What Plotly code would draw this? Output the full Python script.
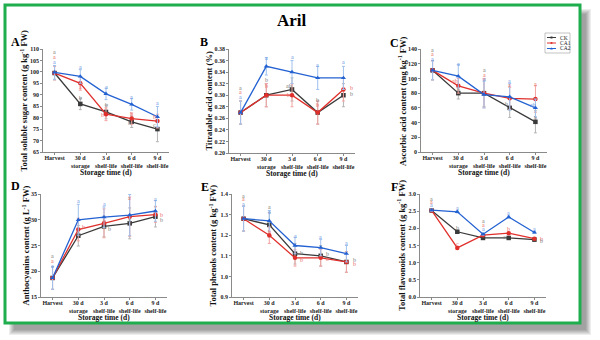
import plotly.graph_objects as go

W, H = 600, 340
SERIF = "Liberation Serif"

# ---- data -------------------------------------------------------------
stages = ["Harvest", "30 d<br>storage", "3 d<br>shelf-life", "6 d<br>shelf-life", "9 d<br>shelf-life"]
series_names = ["CK", "CA1", "CA2"]

# A  total soluble sugar (g kg-1 FW)
sugar_ck = [99.5, 86.0, 82.5, 78.2, 75.0]
sugar_ca1 = [99.5, 95.0, 81.5, 79.6, 78.5]
sugar_ca2 = [99.8, 98.0, 90.4, 85.8, 80.4]
sugar_ck_sd = [3.0, 2.5, 3.0, 2.5, 5.5]
sugar_ca1_sd = [3.0, 3.0, 2.8, 2.5, 3.0]
sugar_ca2_sd = [3.0, 3.0, 2.5, 2.5, 4.5]

# B  titratable acid (%)
acid_ck = [0.27, 0.30, 0.31, 0.27, 0.30]
acid_ca1 = [0.27, 0.30, 0.30, 0.27, 0.31]
acid_ca2 = [0.27, 0.35, 0.34, 0.33, 0.33]
acid_ck_sd = [0.02, 0.02, 0.02, 0.02, 0.02]
acid_ca1_sd = [0.02, 0.02, 0.02, 0.02, 0.02]
acid_ca2_sd = [0.02, 0.015, 0.02, 0.02, 0.02]

# C  ascorbic acid (mg kg-1 FW)
vc_ck = [111, 80, 80, 60, 41]
vc_ca1 = [111, 90, 80, 73, 72]
vc_ca2 = [111, 103, 78, 75, 60]
vc_ck_sd = [13, 8, 18, 13, 15]
vc_ca1_sd = [13, 10, 20, 15, 18]
vc_ca2_sd = [13, 16, 18, 18, 12]

# D  anthocyanins (g L-1 FW)
anth_ck = [18.7, 26.9, 28.7, 29.3, 30.6]
anth_ca1 = [18.7, 28.1, 29.3, 30.6, 31.0]
anth_ca2 = [18.7, 30.0, 30.5, 30.9, 31.7]
anth_ck_sd = [2.2, 2.0, 2.0, 3.0, 2.0]
anth_ca1_sd = [2.2, 2.2, 2.8, 3.8, 1.5]
anth_ca2_sd = [2.2, 3.0, 2.0, 4.0, 2.0]

# E  total phenols (g kg-1 FW)
phen_ck = [1.28, 1.25, 1.11, 1.10, 1.07]
phen_ca1 = [1.28, 1.20, 1.09, 1.09, 1.07]
phen_ca2 = [1.28, 1.27, 1.15, 1.14, 1.11]
phen_ck_sd = [0.06, 0.06, 0.05, 0.05, 0.05]
phen_ca1_sd = [0.06, 0.04, 0.04, 0.04, 0.05]
phen_ca2_sd = [0.06, 0.05, 0.04, 0.04, 0.04]

# F  total flavonoids (g kg-1 FW)
flav_ck = [2.52, 1.90, 1.72, 1.72, 1.67]
flav_ca1 = [2.52, 1.43, 1.80, 1.86, 1.70]
flav_ca2 = [2.53, 2.48, 1.83, 2.33, 1.88]
flav_ck_sd = [0.03, 0.03, 0.03, 0.03, 0.03]
flav_ca1_sd = [0.03, 0.03, 0.03, 0.03, 0.03]
flav_ca2_sd = [0.03, 0.03, 0.03, 0.03, 0.03]

# significance letters: (series, stage, letter, y, x-nudge)
sig_a = [(0, 0, "a", 108.5, 0), (1, 0, "a", 106.3, 0), (2, 0, "a", 104.2, 0),
         (2, 1, "a", 102.0, 0), (1, 1, "a", 93.6, 0), (0, 1, "b", 88.5, 0),
         (2, 2, "a", 93.5, 0), (0, 2, "b", 85.5, 0), (1, 2, "b", 81.3, -0.15),
         (2, 3, "a", 89.0, 0), (1, 3, "b", 81.5, 0), (0, 3, "b", 77.8, -0.1),
         (2, 4, "a", 86.5, 0), (1, 4, "b", 80.3, -0.1), (0, 4, "c", 76.8, -0.1)]
sig_b = [(0, 0, "a", 0.313, 0), (1, 0, "a", 0.305, 0), (2, 0, "a", 0.297, 0),
         (2, 1, "a", 0.365, 0), (0, 1, "b", 0.326, 0), (1, 1, "b", 0.316, 0),
         (2, 2, "a", 0.366, 0), (0, 2, "ab", 0.316, -0.1), (1, 2, "b", 0.301, -0.12),
         (2, 3, "a", 0.353, 0), (0, 3, "b", 0.291, 0), (1, 3, "b", 0.283, 0),
         (2, 4, "a", 0.357, 0), (1, 4, "b", 0.312, 0.32), (0, 4, "b", 0.302, 0.32)]
sig_c = [(0, 0, "a", 138, 0), (1, 0, "a", 133, 0), (2, 0, "a", 127, 0),
         (2, 1, "a", 119, 0), (1, 1, "ab", 96, -0.12), (0, 1, "b", 84, 0),
         (0, 2, "a", 111, 0), (1, 2, "a", 105, 0), (2, 2, "a", 99, 0),
         (2, 3, "a", 97, 0), (1, 3, "a", 91, 0), (0, 3, "b", 65, -0.12),
         (1, 4, "a", 92, 0), (2, 4, "ab", 64, -0.1), (0, 4, "b", 46, 0)]
sig_d = [(0, 0, "a", 23.0, 0), (1, 0, "a", 22.0, 0), (2, 0, "a", 21.0, 0),
         (2, 1, "a", 33.6, 0), (1, 1, "b", 28.6, 0.22), (0, 1, "c", 27.5, 0),
         (2, 2, "a", 33.0, 0), (1, 2, "b", 29.8, 0), (0, 2, "b", 28.3, 0.22),
         (2, 3, "a", 35.5, 0), (1, 3, "a", 34.2, 0), (0, 3, "a", 30.0, 0),
         (2, 4, "a", 34.0, 0), (1, 4, "b", 31.0, 0.25), (0, 4, "b", 30.0, 0.25)]
sig_e = [(0, 0, "a", 1.39, 0), (1, 0, "a", 1.375, 0), (2, 0, "a", 1.35, 0),
         (0, 1, "a", 1.335, 0), (2, 1, "a", 1.315, 0), (1, 1, "b", 1.215, 0),
         (2, 2, "a", 1.195, 0), (0, 2, "b", 1.115, 0.25), (1, 2, "b", 1.08, 0.25),
         (2, 3, "a", 1.19, 0), (0, 3, "b", 1.11, 0.25), (1, 3, "b", 1.085, 0.25),
         (2, 4, "a", 1.16, 0), (0, 4, "b", 1.08, 0.3), (1, 4, "b", 1.06, 0.3)]
sig_f = [(0, 0, "a", 2.85, 0), (1, 0, "a", 2.76, 0), (2, 0, "a", 2.67, 0),
         (2, 1, "a", 2.60, 0), (0, 1, "b", 2.02, 0), (1, 1, "c", 1.55, 0),
         (0, 2, "a", 2.20, 0), (1, 2, "a", 2.09, 0), (2, 2, "a", 1.98, 0),
         (2, 3, "a", 2.46, 0), (1, 3, "b", 1.98, 0), (0, 3, "c", 1.76, -0.15),
         (2, 4, "a", 1.98, 0), (1, 4, "b", 1.70, 0.28), (0, 4, "b", 1.62, 0.28)]

# ---- styles -----------------------------------------------------------
line_col = ["#3a3a3a", "#e0302c", "#2462d2"]
err_col = ["#b4b4b4", "#f3a3a0", "#9fc1ee"]
sig_col = ["#7a7a7a", "#e86a66", "#6a95e2"]
symbols = ["square", "circle", "triangle-up"]

panels = [
    dict(tag="A", vals=[sugar_ck, sugar_ca1, sugar_ca2], sd=[sugar_ck_sd, sugar_ca1_sd, sugar_ca2_sd],
         rng=[65, 110], dtick=5, fmt="d", sig=sig_a,
         ytitle="Total soluble sugar content (g kg<sup>-1</sup> FW)",
         xl=43, top=49, bot=152, ty=24, lx=15, ly=42),
    dict(tag="B", vals=[acid_ck, acid_ca1, acid_ca2], sd=[acid_ck_sd, acid_ca1_sd, acid_ca2_sd],
         rng=[0.20, 0.38], dtick=0.02, fmt=".2f", sig=sig_b,
         ytitle="Titratable acid content (%)",
         xl=229, top=49, bot=153, ty=208.5, lx=204, ly=42),
    dict(tag="C", vals=[vc_ck, vc_ca1, vc_ca2], sd=[vc_ck_sd, vc_ca1_sd, vc_ca2_sd],
         rng=[0, 140], dtick=20, fmt="d", sig=sig_c,
         ytitle="Ascorbic acid content (mg kg<sup>-1</sup> FW)",
         xl=421, top=49, bot=152, ty=402.5, lx=394, ly=43),
    dict(tag="D", vals=[anth_ck, anth_ca1, anth_ca2], sd=[anth_ck_sd, anth_ca1_sd, anth_ca2_sd],
         rng=[15, 35], dtick=5, fmt="d", sig=sig_d,
         ytitle="Anthocyanins content (g L<sup>-1</sup> FW)",
         xl=41, top=194, bot=297, ty=26, lx=15, ly=186),
    dict(tag="E", vals=[phen_ck, phen_ca1, phen_ca2], sd=[phen_ck_sd, phen_ca1_sd, phen_ca2_sd],
         rng=[0.9, 1.4], dtick=0.1, fmt=".1f", sig=sig_e,
         ytitle="Total phenols content (g kg<sup>-1</sup> FW)",
         xl=232, top=194, bot=297, ty=213, lx=205, ly=187),
    dict(tag="F", vals=[flav_ck, flav_ca1, flav_ca2], sd=[flav_ck_sd, flav_ca1_sd, flav_ca2_sd],
         rng=[0, 3.0], dtick=0.5, fmt=".1f", sig=sig_f,
         ytitle="Total flavonoids content (g kg<sup>-1</sup> FW)",
         xl=420, top=194, bot=297, ty=401.5, lx=394, ly=187),
]

PANEL_W = 126
X_RANGE = [-0.45, 4.45]
xs = list(range(len(stages)))


def px(x):
    return x / W


def py(y):
    return 1 - y / H


def label(x, y, text, size, color="#111", angle=0):
    return dict(x=px(x), y=py(y), xref="paper", yref="paper", text=text, textangle=angle,
                showarrow=False, xanchor="center", yanchor="middle",
                font=dict(family=SERIF, size=size, color=color))


fig = go.Figure()
layout = {}
annotations = []

for i, p in enumerate(panels):
    n = "" if i == 0 else str(i + 1)
    xa, ya = "x" + n, "y" + n
    for s in range(3):
        fig.add_trace(go.Scatter(
            x=xs, y=p["vals"][s], xaxis=xa, yaxis=ya,
            name=series_names[s], showlegend=False,
            mode="lines+markers",
            line=dict(color=line_col[s], width=1.3),
            marker=dict(symbol=symbols[s], size=4.5, color=line_col[s]),
            error_y=dict(type="data", array=p["sd"][s], color=err_col[s], thickness=1, width=1.5),
        ))
    axis_common = dict(showline=True, linecolor="#8a8a8a", linewidth=0.8, ticks="outside",
                       ticklen=2, tickwidth=0.8, tickcolor="#8a8a8a", showgrid=False, zeroline=False,
                       automargin=False,
                       tickfont=dict(family=SERIF, size=6, color="#222", weight="bold"))
    layout["xaxis" + n] = dict(axis_common, domain=[px(p["xl"]), px(p["xl"] + PANEL_W)],
                               anchor=ya, range=X_RANGE, tickmode="array", tickvals=xs,
                               ticktext=stages, ticklabelstandoff=-2)
    layout["yaxis" + n] = dict(axis_common, domain=[py(p["bot"]), py(p["top"])],
                               anchor=xa, range=p["rng"], dtick=p["dtick"], tick0=p["rng"][0],
                               tickformat=p["fmt"])
    annotations.append(label(p["ty"], (p["top"] + p["bot"]) / 2, "<b>" + p["ytitle"] + "</b>", 8.5,
                             angle=-90))
    annotations.append(label(p["xl"] + PANEL_W / 2, p["bot"] + 20, "<b>Storage time (d)</b>", 7.5))
    annotations.append(label(p["lx"], p["ly"], "<b>" + p["tag"] + "</b>", 12, color="#000"))
    for s, k, txt, yv, dx in p["sig"]:
        annotations.append(dict(x=k + dx, y=yv, xref=xa, yref=ya, text=txt, showarrow=False,
                                xanchor="center", yanchor="middle",
                                font=dict(family=SERIF, size=6, color=sig_col[s])))

annotations.append(label(292, 20, "<b>Aril</b>", 17, color="#000"))

# frame with a soft drop shadow toward lower right
shapes = []
for j in range(6):
    shapes.append(dict(type="rect", xref="paper", yref="paper", layer="below",
                       x0=px(14 - j), x1=px(586 + j), y0=py(330 + j), y1=py(14 - j),
                       line=dict(width=0), fillcolor="rgba(0,0,0,0.07)"))
shapes.append(dict(type="rect", xref="paper", yref="paper", layer="below",
                   x0=px(5), x1=px(580), y0=py(323), y1=py(5),
                   line=dict(color="#1fae4e", width=3), fillcolor="white"))

# compact key inside panel C
key_x0, key_x1, key_top = 545, 570, 33
shapes.append(dict(type="rect", xref="paper", yref="paper",
                   x0=px(key_x0), x1=px(key_x1), y0=py(key_top + 20), y1=py(key_top),
                   line=dict(color="#9a9a9a", width=0.6), fillcolor="white"))
for s in range(3):
    yk = key_top + 4.5 + s * 5.5
    shapes.append(dict(type="line", xref="paper", yref="paper",
                       x0=px(key_x0 + 2), x1=px(key_x0 + 11), y0=py(yk), y1=py(yk),
                       line=dict(color=line_col[s], width=1)))
    if s == 0:
        shapes.append(dict(type="rect", xref="paper", yref="paper",
                           x0=px(key_x0 + 5.5), x1=px(key_x0 + 7.5), y0=py(yk + 1), y1=py(yk - 1),
                           line=dict(width=0), fillcolor=line_col[s]))
    elif s == 1:
        shapes.append(dict(type="circle", xref="paper", yref="paper",
                           x0=px(key_x0 + 5.4), x1=px(key_x0 + 7.6), y0=py(yk + 1.1), y1=py(yk - 1.1),
                           line=dict(width=0), fillcolor=line_col[s]))
    else:
        cx = key_x0 + 6.5
        shapes.append(dict(type="path", xref="paper", yref="paper",
                           path=f"M {px(cx - 1.3)} {py(yk + 1)} L {px(cx + 1.3)} {py(yk + 1)} "
                                f"L {px(cx)} {py(yk - 1.3)} Z",
                           line=dict(width=0), fillcolor=line_col[s]))
    annotations.append(dict(x=px(key_x0 + 12.5), y=py(yk), xref="paper", yref="paper",
                            text=series_names[s], showarrow=False, xanchor="left", yanchor="middle",
                            font=dict(family=SERIF, size=5.5, color="#222")))

fig.update_layout(
    **layout,
    width=W, height=H, margin=dict(l=0, r=0, t=0, b=0),
    paper_bgcolor="white", plot_bgcolor="rgba(0,0,0,0)",
    annotations=annotations, shapes=shapes,
    showlegend=False,
    font=dict(family=SERIF),
)

fig.write_html("out.html")
